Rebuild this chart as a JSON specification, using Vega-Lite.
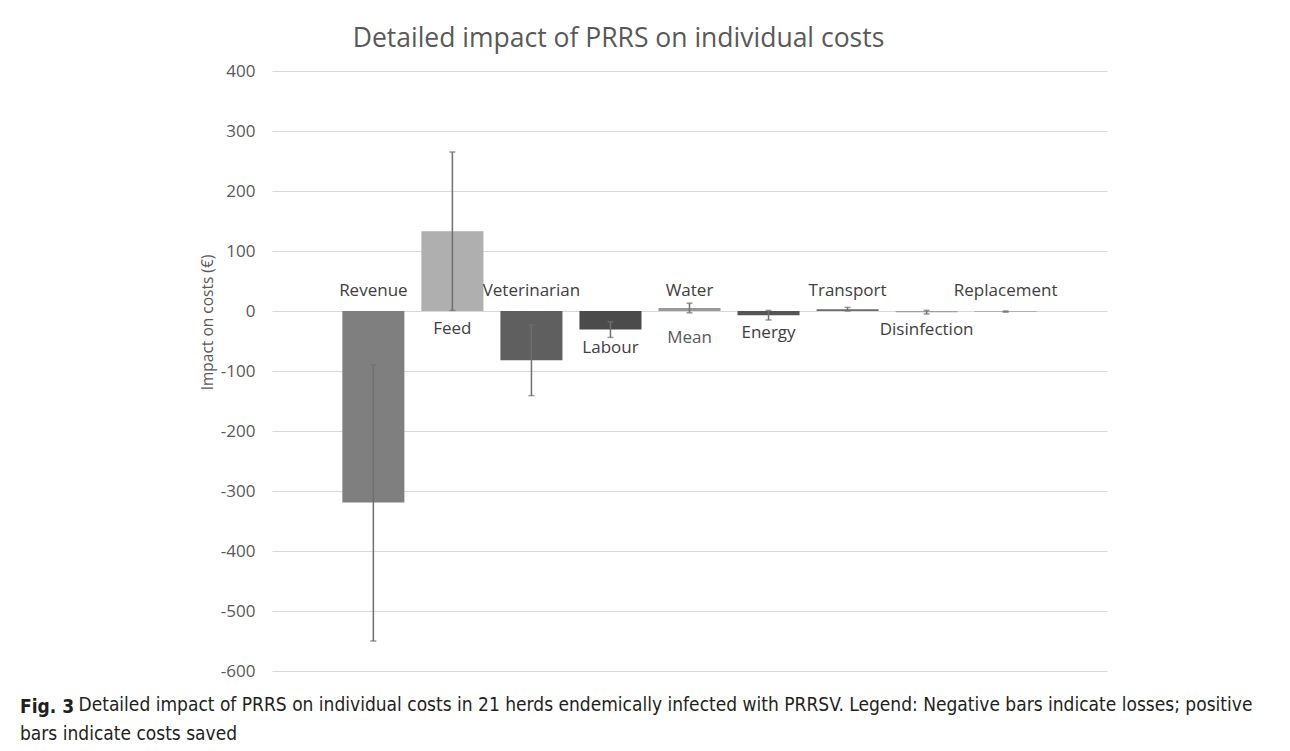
{
  "$schema": "https://vega.github.io/schema/vega-lite/v6.json",
  "width": 835,
  "height": 600,
  "autosize": {"type": "none"},
  "padding": {"left": 272, "top": 71, "right": 183, "bottom": 80},
  "background": "white",
  "config": {"view": {"stroke": null}},
  "title": {
    "text": "Fig. 3",
    "subtitle": "bars indicate costs saved",
    "orient": "bottom",
    "anchor": "start",
    "frame": "group",
    "dx": -252,
    "offset": -16,
    "font": "DejaVu Sans Condensed, Liberation Sans Narrow, Open Sans",
    "fontSize": 19,
    "fontWeight": "bold",
    "color": "#231f20",
    "subtitleFont": "DejaVu Sans Condensed, Liberation Sans Narrow, Open Sans",
    "subtitleFontSize": 19,
    "subtitleColor": "#231f20",
    "subtitlePadding": 8
  },
  "data": {
    "values": [
      {"category": "Revenue", "value": -319, "lo": -550, "hi": -90, "placement": "above"},
      {"category": "Feed", "value": 133, "lo": 1, "hi": 265, "placement": "below"},
      {"category": "Veterinarian", "value": -82, "lo": -141, "hi": -23, "placement": "above"},
      {"category": "Labour", "value": -31, "lo": -44, "hi": -18, "placement": "below"},
      {"category": "Water", "value": 5, "lo": -3, "hi": 13, "placement": "above"},
      {"category": "Energy", "value": -7, "lo": -15, "hi": 1, "placement": "below"},
      {"category": "Transport", "value": 3, "lo": 0, "hi": 6, "placement": "above"},
      {"category": "Disinfection", "value": -2, "lo": -5, "hi": 1, "placement": "below"},
      {"category": "Replacement", "value": -1, "lo": -2, "hi": 0, "placement": "above"}
    ]
  },
  "resolve": {"axis": {"x": "independent"}},
  "layer": [
    {
      "encoding": {
        "x": {
          "field": "category",
          "type": "nominal",
          "sort": null,
          "scale": {"paddingInner": 0.215, "paddingOuter": 0.89},
          "axis": {
            "orient": "top",
            "labels": false,
            "ticks": false,
            "domain": false,
            "grid": false,
            "title": "Detailed impact of PRRS on individual costs",
            "titleFont": "Open Sans",
            "titleFontSize": 26.5,
            "titleFontWeight": "normal",
            "titleColor": "#595959",
            "titleX": 346,
            "titleY": -25,
            "titleAlign": "center",
            "titleBaseline": "alphabetic"
          }
        }
      },
      "layer": [
        {
          "mark": {"type": "bar"},
          "encoding": {
            "y": {
              "field": "value",
              "type": "quantitative",
              "scale": {"domain": [-600, 400], "nice": false, "zero": true},
              "axis": {
                "values": [-600, -500, -400, -300, -200, -100, 0, 100, 200, 300, 400],
                "labelExpr": "datum.value < 0 ? '-' + abs(datum.value) : '' + datum.value",
                "grid": true,
                "gridColor": "#d9d9d9",
                "gridWidth": 1.2,
                "domain": false,
                "ticks": false,
                "labelPadding": 17,
                "labelFont": "Open Sans",
                "labelFontSize": 17,
                "labelColor": "#595959",
                "title": "Impact on costs (€)",
                "titleFont": "Open Sans",
                "titleFontSize": 15.5,
                "titleFontWeight": "normal",
                "titleColor": "#595959",
                "titleX": -65,
                "titleY": 251,
                "titleBaseline": "middle"
              }
            },
            "color": {
              "field": "category",
              "type": "nominal",
              "legend": null,
              "scale": {
                "domain": ["Revenue", "Feed", "Veterinarian", "Labour", "Water", "Energy", "Transport", "Disinfection", "Replacement"],
                "range": ["#7f7f7f", "#afafaf", "#5f5f5f", "#4b4b4b", "#999999", "#555555", "#6b6b6b", "#a0a0a0", "#8a8a8a"]
              }
            }
          }
        },
        {
          "mark": {"type": "rule", "color": "#6f6f6f", "strokeWidth": 1.5},
          "encoding": {
            "y": {"field": "lo", "type": "quantitative"},
            "y2": {"field": "hi"}
          }
        },
        {
          "mark": {"type": "tick", "color": "#6f6f6f", "size": 6, "thickness": 1.5},
          "encoding": {"y": {"field": "lo", "type": "quantitative"}}
        },
        {
          "mark": {"type": "tick", "color": "#6f6f6f", "size": 6, "thickness": 1.5},
          "encoding": {"y": {"field": "hi", "type": "quantitative"}}
        },
        {
          "transform": [{"filter": "datum.placement === 'above'"}],
          "mark": {"type": "text", "font": "Open Sans", "fontSize": 17, "color": "#404040", "baseline": "middle", "dy": -20},
          "encoding": {
            "y": {"datum": 0},
            "text": {"field": "category"}
          }
        },
        {
          "transform": [
            {"filter": "datum.placement === 'below'"},
            {"calculate": "min(0, datum.value)", "as": "labelBase"}
          ],
          "mark": {"type": "text", "font": "Open Sans", "fontSize": 17, "color": "#404040", "baseline": "middle", "dy": 18},
          "encoding": {
            "y": {"field": "labelBase", "type": "quantitative"},
            "text": {"field": "category"}
          }
        }
      ]
    },
    {
      "data": {"values": [{"category": "Water", "label": "Mean"}]},
      "mark": {"type": "text", "font": "Open Sans", "fontSize": 17, "color": "#595959", "baseline": "middle", "dy": 27},
      "encoding": {
        "x": {
          "field": "category",
          "type": "nominal",
          "sort": null,
          "axis": {
            "orient": "bottom",
            "labels": false,
            "ticks": false,
            "domain": false,
            "grid": false,
            "title": "Detailed impact of PRRS on individual costs in 21 herds endemically infected with PRRSV. Legend: Negative bars indicate losses; positive",
            "titleFont": "DejaVu Sans Condensed, Liberation Sans Narrow, Open Sans",
            "titleFontSize": 19,
            "titleFontWeight": "normal",
            "titleColor": "#231f20",
            "titleX": -194,
            "titleY": 39,
            "titleAlign": "left",
            "titleAnchor": "start",
            "titleBaseline": "alphabetic"
          }
        },
        "y": {"datum": 0},
        "text": {"field": "label"}
      }
    }
  ]
}
